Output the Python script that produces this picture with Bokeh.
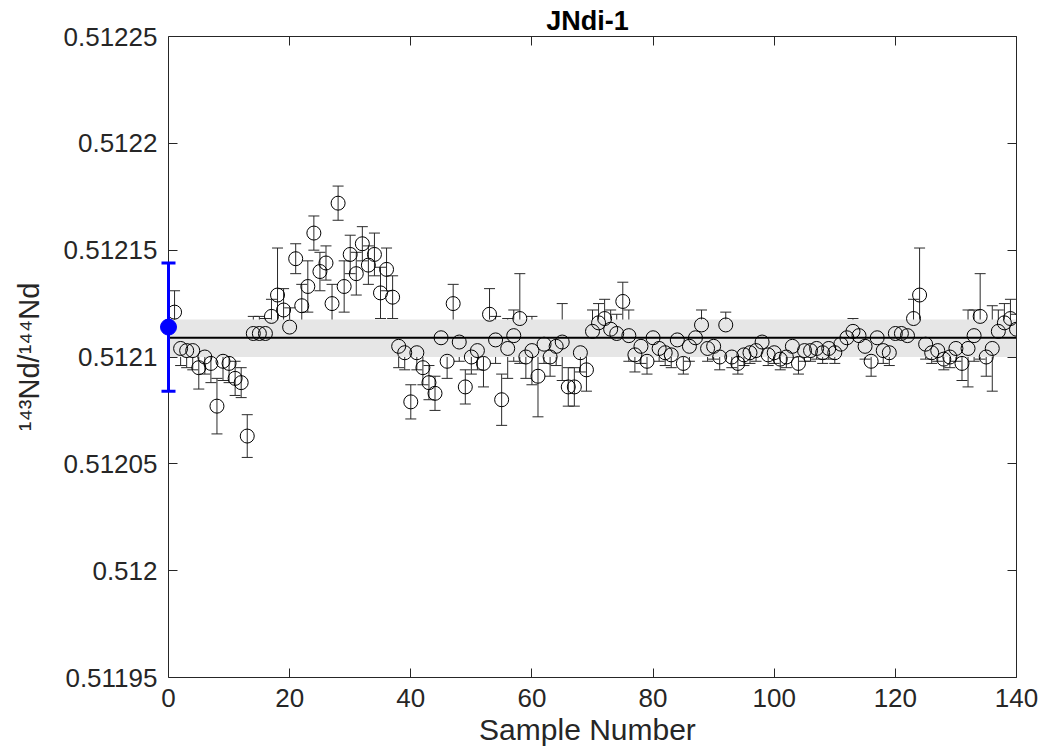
from bokeh.plotting import figure
from bokeh.models import Whisker, ColumnDataSource, TeeHead, FixedTicker, LinearAxis, Range1d
from bokeh.embed import file_html
from bokeh.resources import INLINE

sample = list(range(1, 141))
ratio = [0.512121, 0.512104, 0.512103, 0.512103, 0.512095, 0.512100, 0.512097, 0.512077, 0.512098, 0.512097,
         0.512090, 0.512088, 0.512063, 0.512111, 0.512111, 0.512111, 0.512119, 0.512129, 0.512122, 0.512114,
         0.512146, 0.512124, 0.512133, 0.512158, 0.512140, 0.512144, 0.512125, 0.512172, 0.512133, 0.512148,
         0.512139, 0.512153, 0.512143, 0.512148, 0.512130, 0.512141, 0.512128, 0.512105, 0.512102, 0.512079,
         0.512102, 0.512095, 0.512088, 0.512083, 0.512109, 0.512098, 0.512125, 0.512107, 0.512086, 0.512100,
         0.512103, 0.512097, 0.512120, 0.512108, 0.512080, 0.512104, 0.512110, 0.512118, 0.512100, 0.512103,
         0.512091, 0.512106, 0.512100, 0.512105, 0.512107, 0.512086, 0.512086, 0.512102, 0.512094, 0.512112,
         0.512116, 0.512118, 0.512113, 0.512111, 0.512126, 0.512110, 0.512101, 0.512105, 0.512098, 0.512109,
         0.512104, 0.512102, 0.512101, 0.512108, 0.512097, 0.512105, 0.512109, 0.512115, 0.512104, 0.512105,
         0.512100, 0.512115, 0.512100, 0.512097, 0.512101, 0.512102, 0.512103, 0.512107, 0.512101, 0.512102,
         0.512099, 0.512100, 0.512105, 0.512097, 0.512103, 0.512103, 0.512104, 0.512102, 0.512104, 0.512102,
         0.512106, 0.512109, 0.512112, 0.512110, 0.512105, 0.512098, 0.512109, 0.512103, 0.512102, 0.512111,
         0.512111, 0.512110, 0.512118, 0.512129, 0.512106, 0.512102, 0.512103, 0.512099, 0.512100, 0.512104,
         0.512097, 0.512104, 0.512110, 0.512119, 0.512100, 0.512104, 0.512112, 0.512116, 0.512118, 0.512113]
err = [10, 8, 8, 9, 10, 8, 9, 13, 9, 9,
       8, 7, 10, 8, 8, 7, 8, 22, 10, 9,
       7, 10, 12, 8, 9, 8, 9, 8, 12, 9,
       10, 8, 9, 10, 12, 10, 10, 10, 8, 8,
       8, 8, 8, 8, 8, 8, 9, 9, 8, 8,
       9, 11, 12, 11, 12, 14, 12, 21, 10, 16,
       19, 9, 9, 9, 18, 9, 9, 9, 10, 10,
       9, 9, 9, 9, 9, 12, 8, 8, 6, 6,
       6, 6, 6, 6, 5, 7, 7, 7, 6, 6,
       6, 6, 5, 5, 5, 5, 5, 5, 5, 5,
       5, 5, 5, 5, 5, 5, 5, 5, 5, 5,
       5, 5, 6, 6, 6, 7, 7, 6, 6, 6,
       6, 6, 9, 22, 7, 5, 5, 5, 5, 6,
       8, 18, 12, 20, 9, 20, 10, 9, 9, 7]
err_scale = 1e-6

mean_value = 0.512109
band_low = 0.512100
band_high = 0.5121176
std_x = [0]
std_y = [0.512114]
std_err = [0.00003]

y_ticks = [0.51195, 0.512, 0.51205, 0.5121, 0.51215, 0.5122, 0.51225]
y_labels = ["0.51195", "0.512", "0.51205", "0.5121", "0.51215", "0.5122", "0.51225"]
x_ticks = [0, 20, 40, 60, 80, 100, 120, 140]

FONT = "Liberation Sans"
INK = "#262626"
X0, X1 = 0, 140
Y0, Y1 = 0.51195, 0.51225

# The frame is widened by a few pixels on the left so the standard (at x=0) is not clipped;
# the visible box is drawn by axes bounded to 0..140 and an axis fixed at x=0.
AXES_LEFT = 168
PAD = 10
AXES_RIGHT = 1016
x_lead = PAD * (X1 - X0) / (AXES_RIGHT - AXES_LEFT)

p = figure(width=1041, height=756, output_backend="svg", toolbar_location=None,
           x_range=Range1d(X0 - x_lead, X1), y_range=Range1d(Y0, Y1),
           title="JNdi-1", min_border_left=AXES_LEFT - PAD, min_border_right=1041 - AXES_RIGHT,
           min_border_top=36, min_border_bottom=79, y_axis_location=None, x_axis_location=None)
p.title.align = "center"
p.title.text_font = FONT
p.title.text_font_size = "27px"
p.title.text_font_style = "bold"
p.title.text_color = "black"
p.title.standoff = 2
p.grid.visible = False
p.outline_line_color = None

# grey band and mean line
p.quad(left=[X0], right=[X1], bottom=[band_low], top=[band_high], fill_color="#e6e6e6", line_color=None)
p.line(x=[X0, X1], y=[mean_value, mean_value], line_color="black", line_width=2)

lower = [r - e * err_scale for r, e in zip(ratio, err)]
upper = [r + e * err_scale for r, e in zip(ratio, err)]
src = ColumnDataSource(dict(x=sample, y=ratio, lo=lower, hi=upper))
w = Whisker(source=src, base="x", lower="lo", upper="hi", line_color="#2a2a2a", line_width=1,
            lower_head=TeeHead(size=11, line_color="#2a2a2a", line_width=1),
            upper_head=TeeHead(size=11, line_color="#2a2a2a", line_width=1))
p.add_layout(w)
p.scatter(x="x", y="y", source=src, marker="circle", size=14, fill_color=None, line_color="black", line_width=1)

# standard value
ssrc = ColumnDataSource(dict(x=std_x, y=std_y, lo=[std_y[0] - std_err[0]], hi=[std_y[0] + std_err[0]]))
ws = Whisker(source=ssrc, base="x", lower="lo", upper="hi", line_color="#0000ff", line_width=3,
             lower_head=TeeHead(size=14, line_color="#0000ff", line_width=3),
             upper_head=TeeHead(size=14, line_color="#0000ff", line_width=3), level="overlay")
p.add_layout(ws)
p.scatter(x="x", y="y", source=ssrc, marker="circle", size=16, fill_color="#0000ff",
          line_color="#0000ff", level="overlay")

def style(ax, show_labels):
    ax.major_tick_in = 9
    ax.major_tick_out = 0
    ax.minor_tick_in = 0
    ax.minor_tick_out = 0
    ax.axis_line_color = INK
    ax.major_tick_line_color = INK
    ax.major_label_text_font = FONT
    ax.axis_label_text_font = FONT
    ax.axis_label_text_font_size = "29px"
    ax.axis_label_text_font_style = "normal"
    ax.axis_label_text_color = INK
    if show_labels:
        ax.major_label_text_font_size = "26px"
        ax.major_label_text_color = INK
    else:
        ax.major_label_text_font_size = "1px"
        ax.major_label_text_color = None
        ax.major_label_standoff = 0

xb = LinearAxis(ticker=FixedTicker(ticks=x_ticks), axis_label="Sample Number", bounds=(X0, X1))
style(xb, True)
xb.axis_label_text_font_size = "30px"
xb.major_label_standoff = 11
xb.axis_label_standoff = 3
p.add_layout(xb, "below")

# y ticks and line at x = 0
yfix = LinearAxis(ticker=FixedTicker(ticks=y_ticks), fixed_location=X0)
style(yfix, False)
p.add_layout(yfix, "left")

# y tick labels and axis title (no line/ticks of its own)
yl = LinearAxis(ticker=FixedTicker(ticks=y_ticks), axis_label="¹⁴³Nd/¹⁴⁴Nd")
style(yl, True)
yl.axis_line_color = None
yl.major_tick_line_color = None
yl.major_tick_in = 0
yl.major_label_overrides = {t: l for t, l in zip(y_ticks, y_labels)}
yl.major_label_standoff = 1
yl.axis_label_standoff = 16
p.add_layout(yl, "left")

xt = LinearAxis(ticker=FixedTicker(ticks=x_ticks), bounds=(X0, X1))
style(xt, False)
p.add_layout(xt, "above")
yr = LinearAxis(ticker=FixedTicker(ticks=y_ticks))
style(yr, False)
p.add_layout(yr, "right")

out = open("out.html", "w")
out.write(file_html(p, INLINE))
out.close()
